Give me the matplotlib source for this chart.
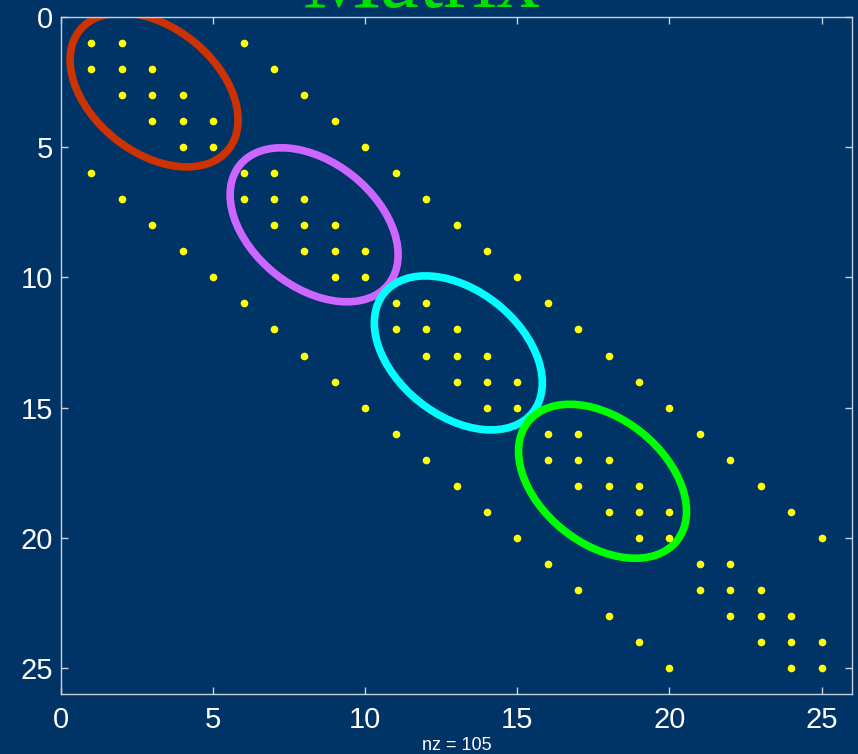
import matplotlib
matplotlib.use('Agg')
import matplotlib.pyplot as plt
from matplotlib.patches import Ellipse
from matplotlib.transforms import ScaledTranslation

# nonzero columns of each row (rows 1..25)
row_cols = [
    [1, 2, 6], [1, 2, 3, 7], [2, 3, 4, 8], [3, 4, 5, 9], [4, 5, 10],
    [1, 6, 7, 11], [2, 6, 7, 8, 12], [3, 7, 8, 9, 13], [4, 8, 9, 10, 14], [5, 9, 10, 15],
    [6, 11, 12, 16], [7, 11, 12, 13, 17], [8, 12, 13, 14, 18], [9, 13, 14, 15, 19], [10, 14, 15, 20],
    [11, 16, 17, 21], [12, 16, 17, 18, 22], [13, 17, 18, 19, 23], [14, 18, 19, 20, 24], [15, 19, 20, 25],
    [16, 21, 22], [17, 21, 22, 23], [18, 22, 23, 24], [19, 23, 24, 25], [20, 24, 25],
]
n = 25

# diagonal blocks circled
block_centers = [(3.06, 2.80), (8.32, 7.98), (13.06, 12.90), (17.80, 17.83)]
block_colors = ['#cc3300', '#cc66ff', '#00ffff', '#00ff00']

rows = [i + 1 for i, cs in enumerate(row_cols) for c in cs]
cols = [c for cs in row_cols for c in cs]

bg = '#003366'
fig = plt.figure(figsize=(8.58, 7.54), dpi=100, facecolor=bg)
ax = fig.add_axes([61 / 858, 60 / 754, 791 / 858, 677 / 754], facecolor=bg)

ax.plot(cols, rows, 'o', color='#ffff00', markersize=5.5, markeredgewidth=0, zorder=3)

for (cx, cy), col in zip(block_centers, block_colors):
    tr = fig.dpi_scale_trans + ScaledTranslation(cx, cy, ax.transData)
    ax.add_patch(Ellipse((0, 0), 1.906, 1.25, angle=-38.7, fill=False,
                         edgecolor=col, linewidth=5.5, transform=tr, zorder=2))

ax.set_xlim(0, n + 1)
ax.set_ylim(n + 1, 0)
ax.set_xticks(range(0, n + 1, 5))
ax.set_yticks(range(0, n + 1, 5))

for sp in ax.spines.values():
    sp.set_color('#c8d0dc')
    sp.set_linewidth(1)
ax.tick_params(direction='in', length=5, width=1, color='#c8d0dc',
               top=True, right=True, labelcolor='white', labelsize=21)
ax.tick_params(axis='x', pad=9)
ax.tick_params(axis='y', pad=6)
for lab in ax.get_xticklabels() + ax.get_yticklabels():
    lab.set_family('Liberation Sans')

ax.set_xlabel('nz = %d' % len(rows), color='white', fontsize=13,
              family='Liberation Sans', labelpad=2)

# slide title, only its lower edge falls inside the figure
fig.text(0.491, 1 - 7 / 754, 'Matrix', ha='center', va='baseline',
         color='#00e000', fontsize=63, family='Liberation Serif')

fig.savefig('out.png', dpi=100, facecolor=bg)
